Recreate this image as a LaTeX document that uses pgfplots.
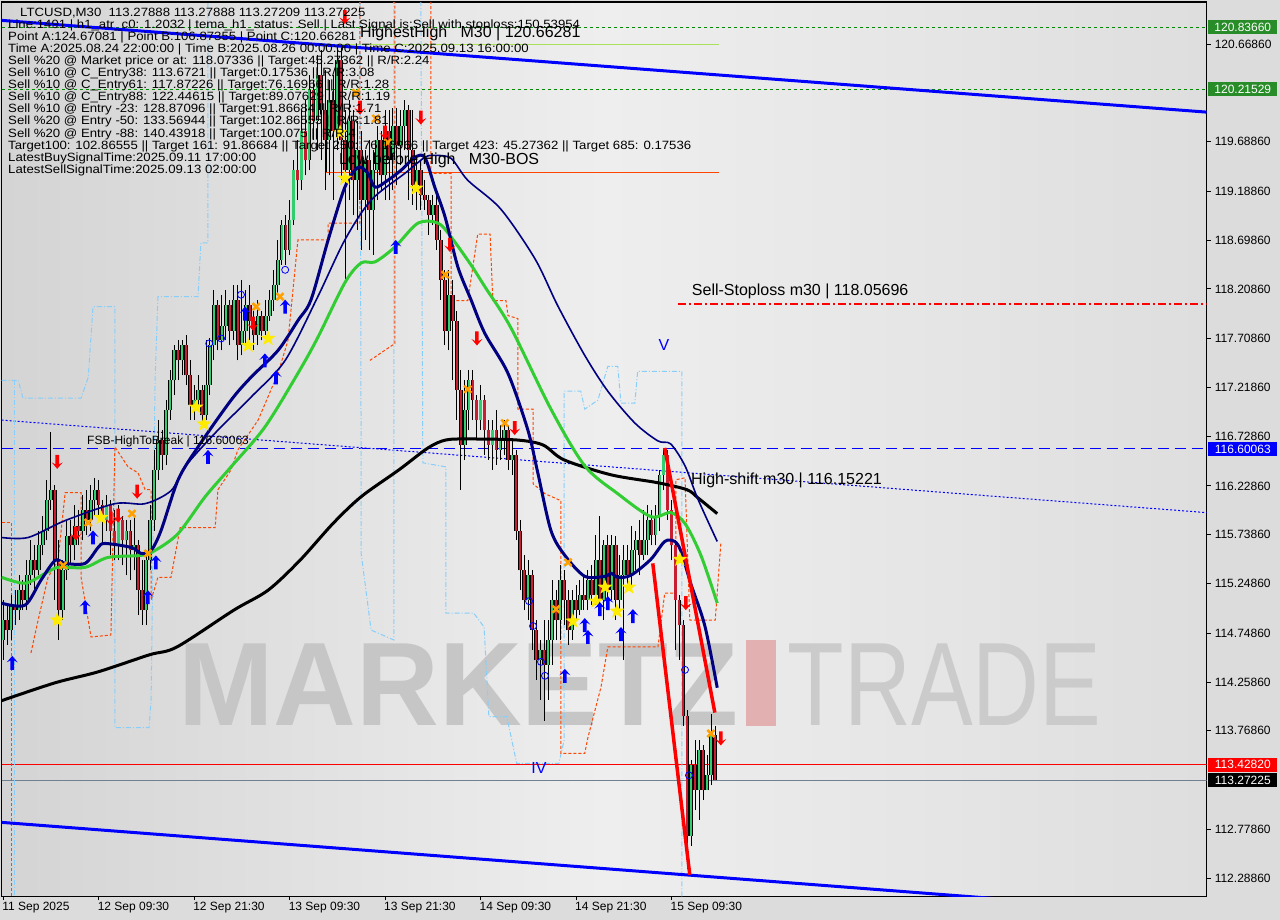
\documentclass[border=0pt]{standalone}
\usepackage{fontspec}
\setmainfont{Liberation Sans}
\usepackage{pgfplots}
\usepackage{pgfplotstable}
\pgfplotsset{compat=1.18}

\definecolor{outerbg}{RGB}{220,220,220}
\definecolor{bgL}{RGB}{212,212,212}
\definecolor{bgM}{RGB}{238,238,238}
\definecolor{bgR}{RGB}{222,222,222}
\definecolor{cup}{RGB}{50,205,110}
\definecolor{cdn}{RGB}{200,30,50}
\definecolor{navyc}{RGB}{0,0,128}
\definecolor{lgreen}{RGB}{50,205,50}
\definecolor{orng}{RGB}{255,69,0}
\definecolor{lblue}{RGB}{135,206,250}
\definecolor{dgreen}{RGB}{0,140,0}
\definecolor{lblgreen}{RGB}{40,140,40}
\definecolor{wmark}{RGB}{198,198,198}
\definecolor{wtrade}{RGB}{203,203,203}
\definecolor{wpink}{RGB}{226,176,176}
\definecolor{ygreen}{RGB}{170,225,90}
\definecolor{starc}{RGB}{255,235,0}
\definecolor{xorange}{RGB}{255,160,0}
\definecolor{slate}{RGB}{112,128,144}

\newcommand\blk{\fontsize{12}{12}\selectfont}
\newcommand\tk{\fontsize{12}{12}\selectfont}
\newcommand\lbl{\fontsize{16}{16}\selectfont}

\pgfdeclareplotmark{uarr}{%
 \pgfpathmoveto{\pgfqpoint{0pt}{7pt}}%
 \pgfpathlineto{\pgfqpoint{5.5pt}{0.5pt}}%
 \pgfpathlineto{\pgfqpoint{1.8pt}{2.5pt}}%
 \pgfpathlineto{\pgfqpoint{1.8pt}{-7pt}}%
 \pgfpathlineto{\pgfqpoint{-1.8pt}{-7pt}}%
 \pgfpathlineto{\pgfqpoint{-1.8pt}{2.5pt}}%
 \pgfpathlineto{\pgfqpoint{-5.5pt}{0.5pt}}%
 \pgfpathclose\pgfusepathqfill}
\pgfdeclareplotmark{darr}{%
 \pgfpathmoveto{\pgfqpoint{0pt}{-7pt}}%
 \pgfpathlineto{\pgfqpoint{5.5pt}{-0.5pt}}%
 \pgfpathlineto{\pgfqpoint{1.8pt}{-2.5pt}}%
 \pgfpathlineto{\pgfqpoint{1.8pt}{7pt}}%
 \pgfpathlineto{\pgfqpoint{-1.8pt}{7pt}}%
 \pgfpathlineto{\pgfqpoint{-1.8pt}{-2.5pt}}%
 \pgfpathlineto{\pgfqpoint{-5.5pt}{-0.5pt}}%
 \pgfpathclose\pgfusepathqfill}
\pgfdeclareplotmark{ystar}{%
 \pgfpathmoveto{\pgfqpoint{0pt}{8pt}}%
 \pgfpathlineto{\pgfqpoint{-1.94pt}{2.67pt}}%
 \pgfpathlineto{\pgfqpoint{-7.61pt}{2.47pt}}%
 \pgfpathlineto{\pgfqpoint{-3.14pt}{-1.02pt}}%
 \pgfpathlineto{\pgfqpoint{-4.70pt}{-6.47pt}}%
 \pgfpathlineto{\pgfqpoint{0pt}{-3.3pt}}%
 \pgfpathlineto{\pgfqpoint{4.70pt}{-6.47pt}}%
 \pgfpathlineto{\pgfqpoint{3.14pt}{-1.02pt}}%
 \pgfpathlineto{\pgfqpoint{7.61pt}{2.47pt}}%
 \pgfpathlineto{\pgfqpoint{1.94pt}{2.67pt}}%
 \pgfpathclose\pgfusepathqfill}

\pgfplotstableread{
i o h l c
0 114.68 115.08 114.48 114.88
2 114.78 115.13 114.68 115.03
4 114.98 115.33 114.88 115.18
6 115.08 115.48 114.98 115.33
7 115.33 115.68 115.23 115.48
9 115.38 115.78 115.33 115.63
10 115.63 115.93 115.53 115.78
11 115.78 116.29 115.68 116.09
12 116.09 116.77 115.99 116.19
15 114.98 115.48 114.88 115.38
16 115.38 115.89 115.28 115.73
18 115.63 116.04 115.48 115.83
20 115.78 116.14 115.68 115.99
22 115.89 116.24 115.78 116.09
23 116.09 116.31 115.93 116.19
26 115.89 116.14 115.78 116.04
29 115.63 116.04 115.48 115.89
31 115.68 115.89 115.33 115.78
33 115.58 115.93 115.38 115.63
36 114.98 115.58 114.83 115.48
37 115.48 116.04 115.38 115.89
38 115.89 116.59 115.78 116.39
39 116.39 116.89 116.29 116.69
41 116.54 117.09 116.44 116.99
42 116.99 117.39 116.89 117.29
43 117.29 117.64 117.14 117.59
45 117.49 117.69 117.34 117.64
48 117.04 117.24 116.89 117.09
49 117.09 117.34 116.99 117.19
51 116.94 117.69 116.89 117.24
52 117.24 117.71 117.14 117.64
53 117.64 118.20 117.49 118.05
55 117.69 118.15 117.59 117.84
56 117.84 118.20 117.69 118.05
58 117.79 118.25 117.69 118.10
60 117.64 118.30 117.54 117.79
61 117.79 118.20 117.64 118.05
64 117.74 118.10 117.64 117.94
66 117.79 118.10 117.74 117.94
67 117.94 118.20 117.89 118.10
68 118.10 118.40 117.99 118.25
69 118.25 118.70 118.15 118.50
70 118.50 118.90 118.45 118.85
72 118.60 119.10 118.55 118.90
73 118.90 119.50 118.85 119.40
75 119.30 120.01 119.20 119.80
77 119.50 120.36 119.40 120.21
79 119.90 120.56 119.60 120.36
82 119.70 120.31 119.35 120.11
84 119.80 120.61 119.60 120.51
87 119.40 120.11 119.10 119.90
89 119.30 119.90 118.80 119.60
91 119.10 119.60 118.70 119.50
93 119.00 119.60 118.55 119.40
94 119.40 119.85 119.10 119.70
96 119.35 120.01 119.10 119.80
98 119.50 120.03 119.20 119.85
100 119.65 120.01 119.45 119.85
101 119.85 120.11 119.60 120.01
104 119.25 119.50 119.00 119.40
108 118.95 119.15 118.85 119.05
112 117.79 118.40 117.59 118.15
116 116.64 117.29 116.49 116.99
117 116.99 117.39 116.79 117.29
120 116.89 117.24 116.79 117.09
123 116.64 116.89 116.39 116.79
125 116.59 116.84 116.49 116.69
126 116.69 116.89 116.54 116.79
128 116.49 116.69 116.34 116.54
132 115.08 115.48 114.88 115.33
135 114.48 114.68 114.08 114.58
137 114.43 114.88 114.08 114.68
138 114.68 115.28 114.43 115.08
140 114.88 115.43 114.68 115.28
143 114.78 115.18 114.68 115.08
145 114.98 115.28 114.93 115.13
147 115.08 115.38 114.98 115.28
149 115.13 115.73 115.03 115.48
151 115.08 115.68 114.88 115.63
153 115.18 115.73 115.08 115.63
155 115.08 115.53 114.98 115.33
156 115.33 115.63 114.48 115.48
158 115.33 115.83 115.23 115.58
159 115.58 115.78 115.38 115.68
161 115.53 115.99 115.48 115.68
162 115.68 116.04 115.53 115.89
164 115.73 116.04 115.63 115.93
165 115.93 116.39 115.78 116.34
166 116.34 116.61 116.19 116.54
173 112.71 113.47 112.61 113.42
175 113.17 113.67 112.87 113.57
177 113.17 113.52 113.17 113.32
178 113.32 113.94 113.22 113.72
}\upT

\pgfplotstableread{
i o h l c
1 114.88 115.03 114.63 114.78
3 115.03 115.18 114.83 114.98
5 115.18 115.28 114.98 115.08
8 115.48 115.63 115.18 115.38
13 116.19 116.24 115.08 115.48
14 115.48 115.68 114.68 114.98
17 115.73 115.89 115.43 115.63
19 115.83 115.99 115.63 115.78
21 115.99 116.19 115.73 115.89
24 116.19 116.29 115.89 116.04
25 116.04 116.09 115.63 115.89
27 116.04 116.09 115.53 115.78
28 115.78 115.99 115.48 115.63
30 115.89 115.93 115.43 115.68
32 115.78 115.89 115.28 115.58
34 115.63 115.68 114.93 115.18
35 115.18 115.48 114.83 114.98
40 116.69 116.79 116.39 116.54
44 117.59 117.69 117.29 117.49
46 117.64 117.74 117.24 117.34
47 117.34 117.49 116.89 117.04
50 117.19 117.24 116.84 116.94
54 118.05 118.10 117.59 117.69
57 118.05 118.10 117.64 117.79
59 118.10 118.25 117.49 117.64
62 118.05 118.25 117.69 117.89
63 117.89 117.99 117.59 117.74
65 117.94 117.99 117.69 117.79
71 118.85 118.95 118.45 118.60
74 119.40 119.70 119.10 119.30
76 119.80 120.11 119.35 119.50
78 120.21 120.31 119.70 119.90
80 120.36 120.61 119.50 120.01
81 120.01 120.41 119.20 119.70
83 120.11 120.36 119.10 119.80
85 120.51 120.63 119.30 119.70
86 119.70 120.01 118.30 119.40
88 119.90 120.01 118.95 119.30
90 119.60 119.80 118.60 119.10
92 119.50 119.70 118.60 119.00
95 119.70 119.80 119.20 119.35
97 119.80 120.01 119.10 119.50
99 119.85 120.03 119.25 119.65
102 120.01 120.06 119.10 119.60
103 119.60 120.01 119.05 119.25
105 119.40 119.50 119.00 119.15
106 119.15 119.30 119.00 119.10
107 119.10 119.15 118.75 118.95
109 119.05 119.15 118.60 118.70
110 118.70 118.80 118.10 118.30
111 118.30 118.40 117.64 117.79
113 118.15 118.30 117.29 117.89
114 117.89 117.99 116.89 117.19
115 117.19 117.39 116.19 116.64
118 117.29 117.39 116.89 117.09
119 117.09 117.14 116.69 116.89
121 117.09 117.14 116.54 116.79
122 116.79 116.89 116.49 116.64
124 116.79 116.99 116.44 116.59
127 116.79 116.84 116.39 116.49
129 116.54 116.59 115.68 115.78
130 115.78 115.89 115.18 115.38
131 115.38 115.53 114.98 115.08
133 115.33 115.38 114.58 114.78
134 114.78 114.88 114.28 114.48
136 114.58 114.88 113.87 114.43
139 115.08 115.18 114.68 114.88
141 115.28 115.38 114.83 115.08
142 115.08 115.18 114.63 114.78
144 115.08 115.23 114.88 114.98
146 115.13 115.33 114.98 115.08
148 115.28 115.43 115.03 115.13
150 115.48 115.93 114.98 115.08
152 115.63 115.73 115.08 115.18
154 115.63 115.73 114.88 115.08
157 115.48 115.63 115.18 115.33
160 115.68 115.89 115.33 115.53
163 115.89 115.99 115.63 115.73
167 116.54 116.59 115.89 115.99
168 115.99 116.09 115.48 115.63
169 115.63 115.68 114.58 115.08
170 115.08 115.13 114.48 114.83
171 114.83 114.88 113.82 113.92
172 113.92 113.98 112.38 112.71
174 113.42 113.67 112.97 113.17
176 113.57 113.62 113.07 113.17
179 113.72 113.82 113.27 113.27
}\dnT

\begin{document}
\begin{tikzpicture}[x=1pt,y=1pt]
\useasboundingbox (0,0) rectangle (1280,920);
\fill[outerbg] (0,0) rectangle (1280,920);
\begin{axis}[
  at={(4,24)}, anchor=south west,
  width=1205pt, height=894pt, scale only axis,
  xmin=-0.38, xmax=302.5, ymin=112.1058, ymax=121.0907,
  axis background/.style={left color=bgL, right color=bgR, middle color=bgM},
  axis line style={black, line width=1.2pt},
  xtick pos=left, ytick pos=right, yticklabel pos=right,
  tick align=outside, major tick length=4pt,
  tick style={black, line width=0.8pt},
  xtick={0,24,48,72,96,120,144,168},
  xticklabels={11 Sep 2025,12 Sep 09:30,12 Sep 21:30,13 Sep 09:30,13 Sep 21:30,14 Sep 09:30,14 Sep 21:30,15 Sep 09:30},
  ytick={112.2886,112.7786,113.7686,114.2586,114.7486,115.2486,115.7386,116.2286,116.7286,117.2186,117.7086,118.2086,118.6986,119.1886,119.6886,120.6686},
  yticklabels={112.28860,112.77860,113.76860,114.25860,114.74860,115.24860,115.73860,116.22860,116.72860,117.21860,117.70860,118.20860,118.69860,119.18860,119.68860,120.66860},
  xticklabel style={font=\tk, anchor=north west, inner sep=0pt, xshift=-1pt, yshift=-2pt},
  yticklabel style={font=\tk, anchor=west, inner sep=0pt, xshift=4pt},
  clip mode=individual,
]
% watermark
\node[anchor=base west, inner sep=0pt, text=wmark, font=\fontsize{118.7}{118.7}\selectfont\bfseries, xscale=0.965] at (axis cs:44,113.82) {MARKETZ};
\fill[wpink] (axis cs:186.7,113.82) rectangle (axis cs:194.2,114.68);
\node[anchor=base west, inner sep=0pt, text=wtrade, font=\fontsize{118.7}{118.7}\selectfont, xscale=0.78] at (axis cs:197.2,113.82) {TRADE};

% horizontal levels
\addplot[dgreen, line width=1pt, dash pattern=on 3pt off 3pt] coordinates {(-0.38,120.8366) (302.5,120.8366)};
\addplot[dgreen, line width=1pt, dash pattern=on 3pt off 3pt] coordinates {(-0.38,120.21529) (302.5,120.21529)};
\addplot[blue, line width=1pt, dash pattern=on 11pt off 6pt] coordinates {(-0.38,116.60063) (302.5,116.60063)};
\addplot[red, line width=1.3pt, dash pattern=on 8pt off 3pt on 2pt off 3pt] coordinates {(169.6,118.05696) (302.5,118.05696)};
\addplot[red, line width=0.9pt] coordinates {(-0.38,113.4282) (302.5,113.4282)};
\addplot[slate, line width=0.9pt] coordinates {(-0.38,113.27225) (302.5,113.27225)};
\addplot[ygreen, line width=1pt] coordinates {(85,120.66) (180,120.66)};
\addplot[orng, line width=1pt] coordinates {(80.9,119.38) (180,119.38)};
\addplot[black, line width=0.8pt] coordinates {(81.2,119.78) (81.2,119.38)};
% dotted sloping line
\addplot[blue, line width=1pt, dash pattern=on 2pt off 2pt] coordinates {(-0.38,116.89) (302.5,115.96)};

% light blue dash-dot channel
\addplot[lblue, line width=1pt, dash pattern=on 5pt off 2pt on 1pt off 2pt] coordinates {(-0.38,117.29) (3.8,117.29) (5,117.11) (19.6,117.11) (21.4,117.32) (22.6,118.03) (28.1,118.03) (28.1,113.80) (36.7,113.80) (37.2,114.08) (38.2,117.29) (38.9,118.13) (49,118.13) (49.7,118.67) (51.5,118.67) (51.5,121.2)};
\addplot[lblue, line width=1pt, dash pattern=on 5pt off 2pt on 1pt off 2pt] coordinates {(2.8,117.29) (2.8,112.0)};
\addplot[lblue, line width=1pt, dash pattern=on 5pt off 2pt on 1pt off 2pt] coordinates {(89.7,121.2) (90,116.29) (90,115.55) (92.5,114.78) (98.2,114.68) (98.2,121.2)};
\addplot[lblue, line width=1pt, dash pattern=on 5pt off 2pt on 1pt off 2pt] coordinates {(105,121.2) (105.5,116.46) (111.3,116.42) (111.3,114.95) (118.3,114.95) (120.9,114.81) (122.1,113.91) (126.6,113.91) (129.1,113.44) (139.7,113.44) (141,113.67) (141,117.18) (145.2,117.18) (146.2,117.00) (149.5,117.09) (152,117.43) (154.5,117.43) (155.3,117.06) (158.8,117.06) (159.5,117.38) (170.6,117.38) (170.6,112.0)};

% orange dashed step lines
\addplot[orng, line width=1pt, dash pattern=on 3pt off 2pt] coordinates {(-0.38,115.86) (2,115.86) (2,112.0)};
\addplot[orng, line width=1pt, dash pattern=on 3pt off 2pt] coordinates {(7.0,114.55) (8.8,114.88) (11.3,115.31) (13.8,115.48) (15.6,116.16) (19.6,116.16) (19.6,115.31) (22.1,114.71) (27.1,114.73) (28.1,116.62) (31.4,116.42) (33.9,116.36) (35.7,116.19) (37.2,116.19) (37.2,115.08) (38.9,115.31) (42.2,115.31) (44.5,115.81) (53.3,115.81) (54,116.19) (57.3,116.39) (59,116.59) (64.1,116.89) (69.1,117.36) (71.6,117.69) (74.1,118.70) (81.7,118.70) (81.7,118.87) (89.7,118.87) (89.7,121.2)};
\addplot[orng, line width=1pt, dash pattern=on 3pt off 2pt] coordinates {(92.2,117.49) (98.5,117.66) (98.5,121.2)};
\addplot[orng, line width=1pt, dash pattern=on 3pt off 2pt] coordinates {(107.5,121.2) (107.5,119.37) (112.6,119.37) (112.6,118.09) (116.8,118.09) (119.3,118.76) (122.4,118.76) (123.1,118.09) (126.4,118.09) (126.9,117.94) (129.4,117.91) (129.4,117.00) (133.2,117.00) (133.2,116.25) (136.2,116.15) (140.2,116.08) (140.2,113.54) (146.2,113.54) (147,113.70) (150.3,114.21) (152,114.61) (164.6,114.61) (166.3,115.15) (169.1,115.15) (169.1,116.29) (171.4,116.31) (172.6,114.88) (179,114.88) (180.4,115.65)};

% channel lines
\addplot[blue, line width=3pt] coordinates {(-0.38,120.907) (302.5,119.985)};
\addplot[blue, line width=3pt] coordinates {(-0.38,112.847) (302.5,111.918)};

% candles: wicks
\addplot[draw=none, mark=none, error bars/.cd, y dir=plus, y explicit, error mark=none, error bar style={draw=black, line width=1pt}] table[x=i, y=l, y error plus expr=\thisrow{h}-\thisrow{l}] {\upT};
\addplot[draw=none, mark=none, error bars/.cd, y dir=plus, y explicit, error mark=none, error bar style={draw=black, line width=1pt}] table[x=i, y=l, y error plus expr=\thisrow{h}-\thisrow{l}] {\dnT};
% bodies
\addplot[draw=none, mark=none, error bars/.cd, y dir=plus, y explicit, error mark=none, error bar style={draw=black, line width=3.8pt, line cap=butt}] table[x=i, y=o, y error plus expr=\thisrow{c}-\thisrow{o}] {\upT};
\addplot[draw=none, mark=none, error bars/.cd, y dir=plus, y explicit, error mark=none, error bar style={draw=cup, line width=2.1pt, line cap=butt}] table[x=i, y=o, y error plus expr=\thisrow{c}-\thisrow{o}] {\upT};
\addplot[draw=none, mark=none, error bars/.cd, y dir=plus, y explicit, error mark=none, error bar style={draw=black, line width=3.8pt, line cap=butt}] table[x=i, y=c, y error plus expr=\thisrow{o}-\thisrow{c}] {\dnT};
\addplot[draw=none, mark=none, error bars/.cd, y dir=plus, y explicit, error mark=none, error bar style={draw=cdn, line width=2.1pt, line cap=butt}] table[x=i, y=c, y error plus expr=\thisrow{o}-\thisrow{c}] {\dnT};

% moving averages
\addplot[black, line width=3pt, smooth] coordinates {(-0.38,114.07) (13.1,114.25) (23.9,114.36) (36.7,114.53) (43.7,114.61) (58,114.98) (66.6,115.18) (74.6,115.48) (82.9,115.85) (90,116.12) (99.5,116.39) (106.8,116.61) (111.3,116.69) (117.3,116.70) (129.1,116.69) (135.7,116.64) (141,116.49) (152.8,116.34) (164.6,116.26) (171.9,116.19) (174.6,116.11) (179.5,115.95)};
\addplot[lgreen, line width=3pt, smooth] coordinates {(-0.38,115.31) (5.5,115.25) (10.6,115.35) (13.8,115.41) (20.6,115.41) (26.4,115.51) (34.7,115.53) (38.2,115.58) (44,115.75) (50.8,116.12) (57.3,116.42) (65.8,116.82) (74.1,117.36) (79.1,117.72) (85.9,118.27) (90,118.47) (93.5,118.48) (98.5,118.63) (104.3,118.87) (109.3,118.87) (112.6,118.73) (117.6,118.45) (121.1,118.23) (127.6,117.82) (137.7,117.00) (146.2,116.43) (154.5,116.15) (162.8,115.92) (167.8,115.96) (171.4,115.85) (175.4,115.53) (179.5,115.05)};
\addplot[navyc, line width=1.6pt, smooth] coordinates {(-0.38,115.71) (6.3,115.71) (15.6,115.88) (28.1,116.05) (35.7,116.05) (42.2,116.18) (45.7,116.42) (53.3,116.76) (62.3,117.12) (70.9,117.49) (79.1,118.13) (85.9,118.70) (92.5,119.10) (101,119.37) (106,119.53) (108.5,119.55) (112.6,119.52) (116.8,119.30) (125.1,119.01) (133.7,118.51) (139.4,118.04) (146.2,117.54) (152,117.18) (158.8,116.86) (164.6,116.68) (167.8,116.65) (171.4,116.43) (174.6,116.10) (179.5,115.67)};
\addplot[navyc, line width=3pt, smooth] coordinates {(-0.38,115.05) (5.5,115.03) (9.5,115.28) (13.1,115.48) (15.6,115.45) (20.6,115.45) (23.9,115.61) (25.6,115.65) (32.2,115.61) (34.7,115.55) (37.2,115.58) (39.7,115.78) (44,116.29) (49,116.62) (57.3,117.09) (62.3,117.32) (69.1,117.59) (74.1,117.89) (77.4,118.10) (81.7,118.70) (85.9,119.23) (89.2,119.43) (91.7,119.37) (93.5,119.23) (96.7,119.30) (100,119.40) (103.5,119.53) (106,119.53) (108.5,119.23) (111.1,118.93) (114.3,118.43) (117.6,118.10) (121.1,117.76) (126.9,117.36) (131.9,116.79) (134.4,116.36) (137.7,115.78) (141.2,115.53) (146.2,115.32) (151.3,115.32) (152.8,115.35) (154.5,115.31) (157.8,115.33) (162.8,115.49) (166.3,115.67) (168.8,115.67) (170.4,115.57) (172.9,115.24) (176.4,114.82) (179.5,114.20)};

% zigzag red lines
\addplot[red, line width=3.5pt] coordinates {(163.3,115.45) (172.6,112.32)};
\addplot[red, line width=3.5pt] coordinates {(166.3,116.61) (178.9,113.95)};

% signal markers
\addplot[only marks, mark=o, mark size=3.5pt, blue, line width=0.8pt] coordinates {(51.8,117.66) (54.8,117.71) (59.8,118.15) (70.9,118.40) (132.2,115.07) (133.2,114.82) (135.2,114.46) (136.2,114.32) (171.4,114.38) (172.4,113.32)};
\addplot[only marks, mark=x, mark size=5pt, xorange, mark options={line width=2.5pt}] coordinates {(15.1,115.43) (21.4,115.86) (32.4,115.95) (36.4,115.55) (63.6,118.03) (69.6,118.13) (88.7,120.18) (93.7,119.92) (96.7,119.68) (111.1,118.35) (116.8,117.20) (126.1,116.86) (142,115.46) (139,114.99) (177.9,113.74)};
\addplot[only marks, mark=ystar, starc] coordinates {(13.6,114.88) (24.6,115.91) (48.5,117.02) (50.5,116.85) (61.6,117.64) (66.6,117.71) (84.7,119.78) (85.9,119.32) (103.8,119.22) (143.2,114.87) (149,115.07) (151.3,115.21) (154.3,114.97) (157.3,115.21) (170.1,115.49)};
\addplot[only marks, mark=uarr, blue] coordinates {(2.3,114.45) (20.6,115.01) (22.6,115.71) (36.4,115.11) (38.4,115.46) (51.5,116.52) (60.8,117.96) (65.8,117.49) (68.6,117.32) (70.9,118.03) (98.7,118.63) (141.2,114.32) (146.2,114.83) (147,114.71) (150,114.99) (152,115.05) (155.3,114.74) (158.3,114.92)};
\addplot[only marks, mark=darr, red] coordinates {(13.6,116.47) (18.3,115.75) (27.1,115.90) (28.9,115.93) (33.7,116.17) (62.8,117.86) (85.9,120.94) (89.7,120.03) (96,119.78) (105,119.93) (112.3,118.65) (119.1,117.71) (128.6,116.81) (171.6,115.05) (180.4,113.69)};

% labels on the chart
\node[anchor=west, inner sep=0pt, font=\lbl] at (axis cs:89.7,120.78) {HighestHigh\ \ \ M30 | 120.66281};
\node[anchor=west, inner sep=0pt, font=\lbl] at (axis cs:84.4,119.50) {Low before High\ \ \ M30-BOS};
\node[anchor=west, inner sep=0pt, font=\lbl] at (axis cs:173.1,118.18) {Sell-Stoploss m30 | 118.05696};
\node[anchor=west, inner sep=0pt, font=\lbl] at (axis cs:172.9,116.28) {High-shift m30 | 116.15221};
\node[anchor=west, inner sep=0pt, font=\tk] at (axis cs:21.1,116.68) {FSB-HighToBreak | 116.60063};
\node[inner sep=0pt, font=\lbl, text=blue] at (axis cs:166.1,117.64) {V};
\node[inner sep=0pt, font=\lbl, text=blue] at (axis cs:134.7,113.39) {IV};

% price labels on the right
\node[anchor=west, fill=lblgreen, text=white, font=\tk, inner xsep=5pt, inner ysep=0pt, minimum height=14pt, minimum width=69pt, xshift=1.5pt] at (axis cs:302.5,120.8366) {120.83660};
\node[anchor=west, fill=lblgreen, text=white, font=\tk, inner xsep=5pt, inner ysep=0pt, minimum height=14pt, minimum width=69pt, xshift=1.5pt] at (axis cs:302.5,120.21529) {120.21529};
\node[anchor=west, fill=blue, text=white, font=\tk, inner xsep=5pt, inner ysep=0pt, minimum height=14pt, minimum width=69pt, xshift=1.5pt] at (axis cs:302.5,116.60063) {116.60063};
\node[anchor=west, fill=red, text=white, font=\tk, inner xsep=5pt, inner ysep=0pt, minimum height=14pt, minimum width=69pt, xshift=1.5pt] at (axis cs:302.5,113.4282) {113.42820};
\node[anchor=west, fill=black, text=white, font=\tk, inner xsep=5pt, inner ysep=0pt, minimum height=14pt, minimum width=69pt, xshift=1.5pt] at (axis cs:302.5,113.27225) {113.27225};
\end{axis}

% info text block
\begin{scope}[every node/.style={anchor=base west, inner sep=0pt, font=\blk, xscale=1.1}]
\node at (20,903.5) {LTCUSD,M30\ \ 113.27888 113.27888 113.27209 113.27225};
\node at (8,891.4) {Line:1491 | h1\_atr\_c0: 1.2032 | tema\_h1\_status: Sell | Last Signal is:Sell with stoploss:150.53954};
\node at (8,879.4) {Point A:124.67081 | Point B:106.87355 | Point C:120.66281};
\node at (8,867.3) {Time A:2025.08.24 22:00:00 | Time B:2025.08.26 00:00:00 | Time C:2025.09.13 16:00:00};
\node at (8,855.3) {Sell \%20 @ Market price or at: 118.07336 || Target:45.27362 || R/R:2.24};
\node at (8,843.2) {Sell \%10 @ C\_Entry38: 113.6721 || Target:0.17536 || R/R:3.08};
\node at (8,831.2) {Sell \%10 @ C\_Entry61: 117.87226 || Target:76.16966 || R/R:1.28};
\node at (8,819.1) {Sell \%10 @ C\_Entry88: 122.44615 || Target:89.07629 || R/R:1.19};
\node at (8,807.0) {Sell \%10 @ Entry -23: 128.87096 || Target:91.86684 || R/R:1.71};
\node at (8,795.0) {Sell \%20 @ Entry -50: 133.56944 || Target:102.86555 || R/R:1.81};
\node at (8,782.9) {Sell \%20 @ Entry -88: 140.43918 || Target:100.075 || R/R:4};
\node at (8,770.9) {Target100: 102.86555 || Target 161: 91.86684 || Target 250: 76.16966 || Target 423: 45.27362 || Target 685: 0.17536};
\node at (8,758.8) {LatestBuySignalTime:2025.09.11 17:00:00};
\node at (8,746.7) {LatestSellSignalTime:2025.09.13 02:00:00};
\end{scope}
\end{tikzpicture}
\end{document}
